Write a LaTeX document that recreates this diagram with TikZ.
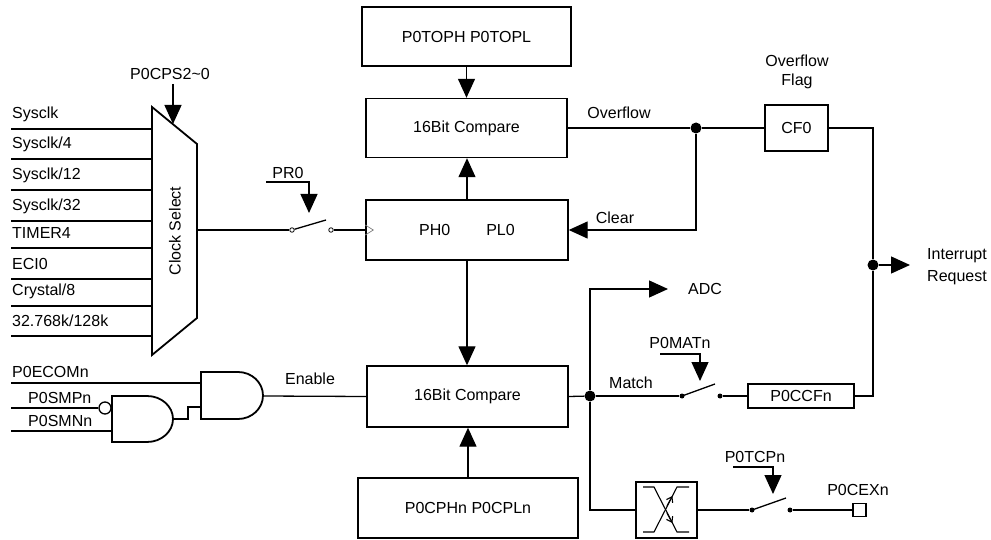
\documentclass[tikz,border=0pt]{standalone}
\usepackage{fontspec}
\setmainfont{Liberation Sans}
\usetikzlibrary{arrows.meta}
\newcommand{\dfont}{\fontsize{16}{19}\selectfont}
\begin{document}
\begin{tikzpicture}[x=1pt,y=-1pt,
 box/.style={draw, line width=1.4pt, inner sep=0pt, font=\dfont},
 lbl/.style={inner sep=0pt, font=\dfont},
 ln/.style={line width=1.3pt},
 arr/.style={line width=1.3pt, -{Triangle[length=19pt 0 0,width=17pt 0 0]}},
 barb/.style={line width=1.1pt, -{Straight Barb[length=5pt,width=7pt]}},
 dot/.style={circle, fill, inner sep=0pt, minimum size=11pt},
 sdot/.style={circle, fill, inner sep=0pt, minimum size=5pt},
 odot/.style={circle, draw, fill=white, line width=0.8pt, inner sep=0pt, minimum size=4.5pt},
 gate/.style={line width=1.8pt}]
\useasboundingbox (0,0) rectangle (991,540);

% main boxes
\node[box, minimum width=209pt, minimum height=59pt] (top) at (466.5,36.5) {P0TOPH P0TOPL};
\node[box, minimum width=201pt, minimum height=59pt] (cmp1) at (466.5,128) {16Bit Compare};
\node[box, minimum width=202pt, minimum height=60pt] (cnt) at (467,230) {PH0\hspace{36pt}PL0};
\node[box, minimum width=201pt, minimum height=61pt] (cmp2) at (467.5,396.5) {16Bit Compare};
\node[box, minimum width=220pt, minimum height=60pt] (bot) at (468,508) {P0CPHn P0CPLn};
\node[box, minimum width=63pt, minimum height=46pt] (cf0) at (796.5,128) {CF0};
\node[box, minimum width=106pt, minimum height=24pt] (ccf) at (801,396) {P0CCFn};
\node[box, minimum width=61pt, minimum height=56pt] (xbox) at (666.5,510) {};
\node[draw, line width=1.3pt, minimum size=13pt, inner sep=0pt] (pin) at (859.5,510) {};

% vertical arrows
\draw[arr] (top.south) -- (top.south |- cmp1.north);
\draw[arr] (cnt.north) -- (cnt.north |- cmp1.south);
\draw[arr] (cnt.south) -- (cnt.south |- cmp2.north);
\draw[arr] (bot.north) -- (bot.north |- cmp2.south);

% clock select mux
\draw[gate] (152,107) -- (197,144) -- (197,318) -- (152,355) -- cycle;
\node[lbl, rotate=90] (clksel) at (175,231) {Clock Select};
\node[lbl] (cps) at (170,74) {P0CPS2\textasciitilde0};
\coordinate (cpsa) at (173,84);
\coordinate (cpsb) at (173,124);
\draw[arr] (cpsa) -- (cpsb);

\foreach \y/\t [count=\i] in {129/Sysclk,159/{Sysclk/4},190/{Sysclk/12},221/{Sysclk/32},248/TIMER4,279/ECI0,306/{Crystal/8},336/{32.768k/128k}}{
  \node[lbl, anchor=west] (in\i) at (12,\y-15) {\t};
  \coordinate (ia\i) at (11,\y);
  \coordinate (ib\i) at (152,\y);
  \draw[ln] (ia\i) -- (ib\i);
}

% PR0 switch
\coordinate (muxout) at (197,230);
\node[odot] (s0a) at (292,230) {};
\node[odot] (s0b) at (331,230) {};
\coordinate (s0t) at (326,220);
\draw[ln] (muxout) -- (s0a);
\draw[ln] (s0a) -- (s0t);
\draw[ln] (s0b) -- (cnt.west);
\draw[gray, line width=0.7pt] ([yshift=5pt]cnt.west) -- ([xshift=8pt]cnt.west) -- ([yshift=-5pt]cnt.west);
\node[lbl] (pr0) at (288,173) {PR0};
\coordinate (pr0a) at (266,182);
\coordinate (pr0b) at (309,182);
\coordinate (pr0c) at (309,213);
\draw[arr] (pr0a) -- (pr0b) -- (pr0c);

% overflow / clear
\node[dot] (ovj) at (696,128) {};
\draw[ln] (cmp1.east) -- (ovj) -- (cf0.west);
\draw[arr] (ovj) |- (cnt.east);
\node[lbl] (ovl) at (619,113) {Overflow};
\node[lbl] (clr) at (615,218) {Clear};
\node[lbl, align=center] (ovf) at (797,72) {Overflow\\Flag};

% interrupt
\node[dot] (irqj) at (873,265) {};
\draw[ln] (cf0.east) -| (irqj);
\draw[ln] (irqj) |- (ccf.east);
\coordinate (irqt) at (910,265);
\draw[arr] (irqj) -- (irqt);
\node[inner sep=0pt, anchor=west, align=left, font=\fontsize{16}{22}\selectfont] (irq) at (927,267) {Interrupt\\Request};

% match
\node[dot] (mj) at (590,396) {};
\draw[ln] (cmp2.east) -- (mj);
\node[sdot] (s1a) at (682,396) {};
\node[sdot] (s1b) at (720,396) {};
\coordinate (s1t) at (715,384);
\draw[ln] (mj) -- (s1a);
\draw[ln] (s1a.center) -- (s1t);
\draw[ln] (s1b) -- (ccf.west);
\node[lbl] (match) at (631,383) {Match};
\node[lbl] (mat) at (680,343) {P0MATn};
\coordinate (mata) at (660,354);
\coordinate (matb) at (700,354);
\coordinate (matc) at (700,381);
\draw[arr] (mata) -- (matb) -- (matc);

% ADC
\coordinate (adct) at (668,289);
\draw[arr] (mj) |- (adct);
\node[lbl] (adc) at (705,289) {ADC};

% toggle path
\draw[ln] (mj) |- (xbox.west);
\draw[line width=1.1pt] (643,487) -- (654,487) -- (677,532) -- (689,532);
\draw[line width=1.1pt] (643,532) -- (654,532) -- (677,487) -- (689,487);
\draw[barb] (667,506) -- (672.4,496);
\draw[barb] (667,513) -- (672.4,523);
\node[sdot] (s2a) at (752,510) {};
\node[sdot] (s2b) at (790,510) {};
\coordinate (s2t) at (786,498);
\draw[ln] (xbox.east) -- (s2a);
\draw[ln] (s2a.center) -- (s2t);
\draw[ln] (s2b) -- (pin.west);
\node[lbl] (tcp) at (755,457) {P0TCPn};
\coordinate (tcpa) at (733,467);
\coordinate (tcpb) at (773,467);
\coordinate (tcpc) at (773,494);
\draw[arr] (tcpa) -- (tcpb) -- (tcpc);
\node[lbl] (cex) at (858,490) {P0CEXn};

% gates
\draw[gate] (201,372) -- (238,372) arc[start angle=-90, end angle=90, x radius=25, y radius=23.5] -- (201,419) -- cycle;
\draw[gate] (112,396) -- (147,396) arc[start angle=-90, end angle=90, x radius=26, y radius=23] -- (112,442) -- cycle;
\coordinate (g1o) at (263,396);
\draw[ln] (g1o) -- (cmp2.west);
\node[lbl] (en) at (310,379) {Enable};
\coordinate (g2o) at (173,419);
\coordinate (g1b) at (201,407);
\draw[ln] (g2o) -- (188,419) -- (188,407) -- (g1b);
\node[circle, draw, line width=1.3pt, fill=white, minimum size=12pt, inner sep=0pt] (bub) at (105,408) {};
\coordinate (ecoma) at (11,383);
\coordinate (ecomb) at (201,383);
\draw[ln] (ecoma) -- (ecomb);
\coordinate (smpa) at (11,408);
\draw[ln] (smpa) -- (bub.west);
\coordinate (smna) at (11,431);
\coordinate (smnb) at (112,431);
\draw[ln] (smna) -- (smnb);
\node[lbl, anchor=west] (ecom) at (12,372) {P0ECOMn};
\node[lbl, anchor=west] (smp) at (28,398) {P0SMPn};
\node[lbl, anchor=west] (smn) at (28,421) {P0SMNn};
\end{tikzpicture}
\end{document}
